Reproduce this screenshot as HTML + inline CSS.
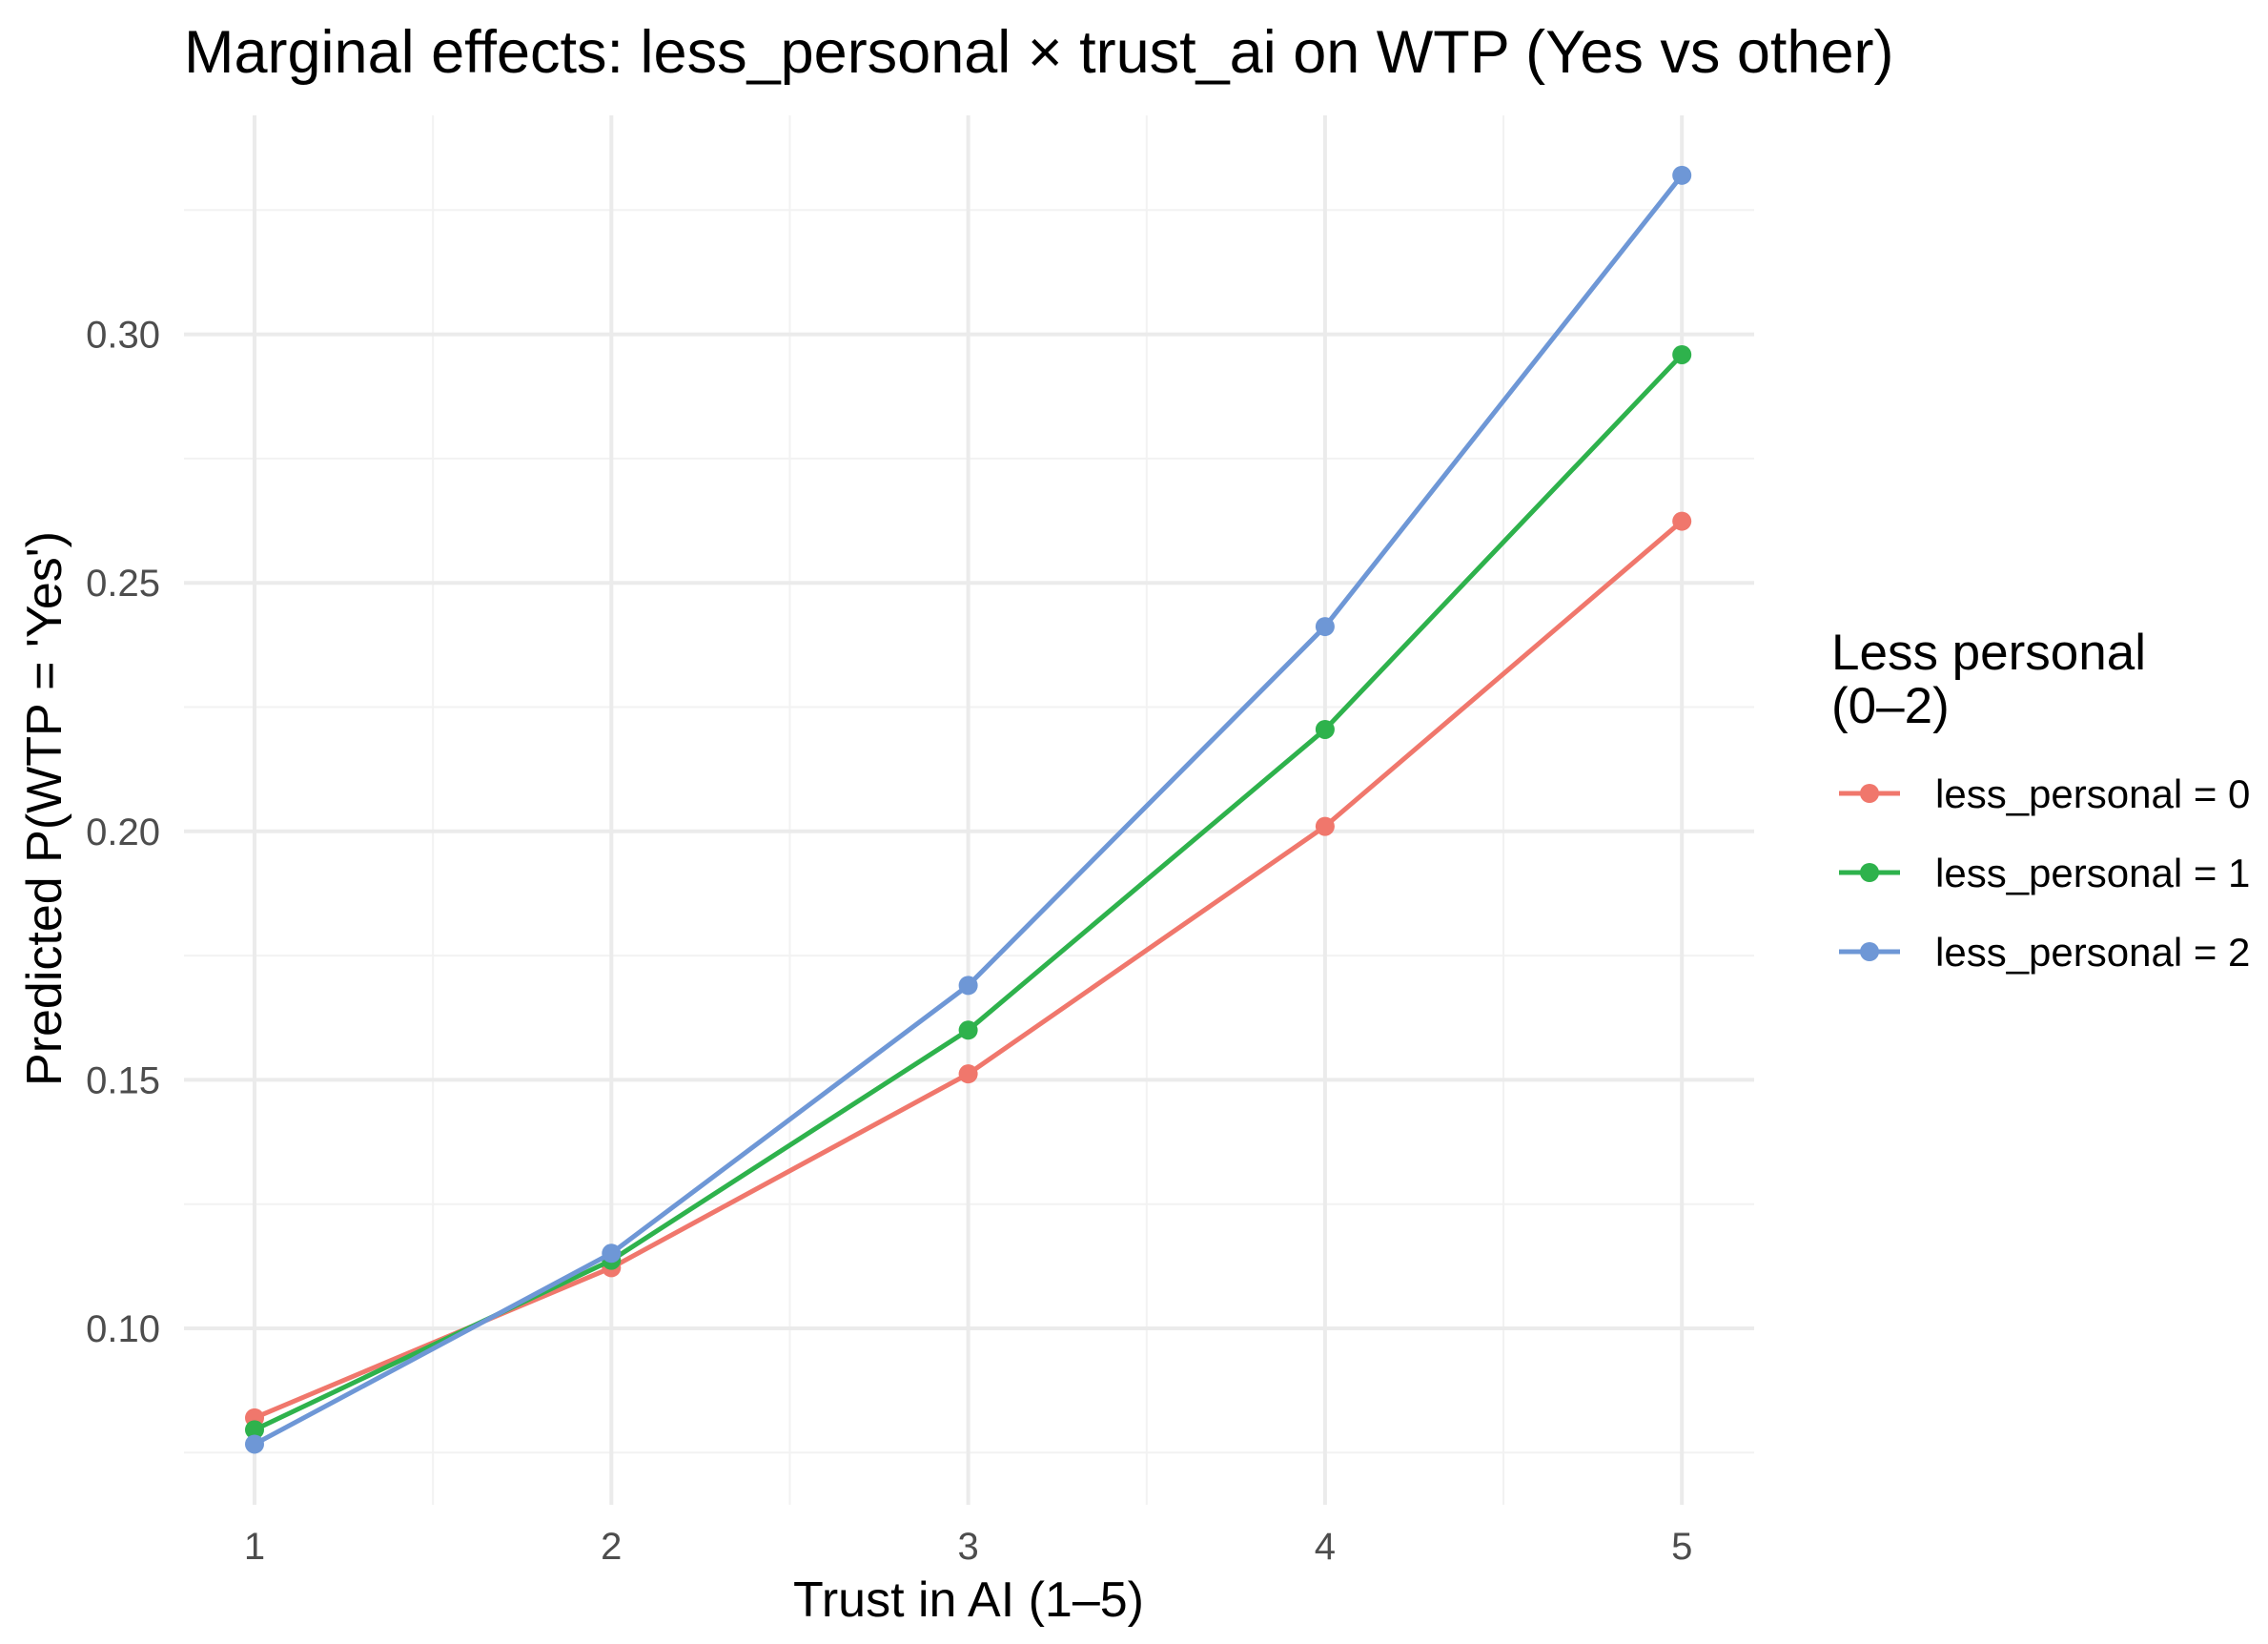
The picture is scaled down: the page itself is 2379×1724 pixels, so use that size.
<!DOCTYPE html>
<html><head><meta charset="utf-8"><style>
html,body{margin:0;padding:0;background:#fff;}
svg{display:block;font-family:"Liberation Sans",sans-serif;}
</style></head><body>
<svg id="chart" width="2379" height="1724" viewBox="0 0 2379 1724">
<text x="193" y="76" font-size="63" fill="#000">Marginal effects: less_personal × trust_ai on WTP (Yes vs other)</text>
<g id="grid"></g>
<g id="series"></g>
<g id="axes"></g>
<text x="1016" y="1695" font-size="52" text-anchor="middle" fill="#000">Trust in AI (1–5)</text>
<text transform="translate(64,848) rotate(-90)" font-size="52" text-anchor="middle" fill="#000">Predicted P(WTP = 'Yes')</text>
<g>
<text x="1921" y="702" font-size="53" fill="#000">Less personal</text>
<text x="1921" y="758" font-size="53" fill="#000">(0–2)</text>
<g id="legend-items"></g>
</g>
</svg>
<script>
const categories = [1, 2, 3, 4, 5];
const seriesNames = ["less_personal = 0", "less_personal = 1", "less_personal = 2"];
const lp0 = [0.082, 0.1122, 0.1512, 0.2010, 0.2624];
const lp1 = [0.0796, 0.1137, 0.1600, 0.2205, 0.2959];
const lp2 = [0.0767, 0.1151, 0.1690, 0.2412, 0.3320];
const yTicks = [0.10, 0.15, 0.20, 0.25, 0.30];
const yTickLabels = ["0.10", "0.15", "0.20", "0.25", "0.30"];
const yMinor = [0.075, 0.125, 0.175, 0.225, 0.275, 0.325];
const xMinor = [1.5, 2.5, 3.5, 4.5];

const colors = ["#F0776C", "#2EB24C", "#6E97D6"];
const NS = "http://www.w3.org/2000/svg";
const PL = 193, PR = 1840, PT = 121, PB = 1578;
function xS(v){ return 267 + (v - 1) * 374.3; }
function yS(v){ return 1393 - (v - 0.10) / 0.05 * 260.6; }
function mk(tag, attrs, parent){ const e = document.createElementNS(NS, tag); for (const k in attrs) e.setAttribute(k, attrs[k]); parent.appendChild(e); return e; }

const grid = document.getElementById('grid');
yMinor.forEach(v => {
  const l = mk('line', {x1: PL, x2: PR, y1: yS(v), y2: yS(v), stroke: '#f2f2f2', 'stroke-width': 2}, grid);
  
  
});
xMinor.forEach(v => {
  const l = mk('line', {x1: xS(v), x2: xS(v), y1: PT, y2: PB, stroke: '#f2f2f2', 'stroke-width': 2}, grid);
  
  
});
yTicks.forEach(v => {
  const l = mk('line', {x1: PL, x2: PR, y1: yS(v), y2: yS(v), stroke: '#ebebeb', 'stroke-width': 4}, grid);
  
  
});
categories.forEach(v => {
  const l = mk('line', {x1: xS(v), x2: xS(v), y1: PT, y2: PB, stroke: '#ebebeb', 'stroke-width': 4}, grid);
  
  
});

const axes = document.getElementById('axes');
yTicks.forEach((v, i) => {
  const t = mk('text', {x: 168, y: yS(v) + 14, 'font-size': 40, 'text-anchor': 'end', fill: '#4d4d4d'}, axes);
  t.textContent = yTickLabels[i];
  
  
});
categories.forEach(v => {
  const t = mk('text', {x: xS(v), y: 1635, 'font-size': 40, 'text-anchor': 'middle', fill: '#4d4d4d'}, axes);
  t.textContent = String(v);
  
  
});

const series = document.getElementById('series');
[lp0, lp1, lp2].forEach((vals, si) => {
  const g = mk('g', {}, series);
  
  
  const pts = vals.map((v, i) => xS(categories[i]) + ',' + yS(v)).join(' ');
  const pl = mk('polyline', {points: pts, fill: 'none', stroke: colors[si], 'stroke-width': 5, 'stroke-linejoin': 'round'}, g);
  
  
  vals.forEach((v, i) => {
    const c = mk('circle', {cx: xS(categories[i]), cy: yS(v), r: 10, fill: colors[si]}, g);
    
    
  });
});

const leg = document.getElementById('legend-items');
seriesNames.forEach((n, i) => {
  const y = 832 + i * 83;
  const g = mk('g', {}, leg);
  
  
  mk('line', {x1: 1929, x2: 1993, y1: y, y2: y, stroke: colors[i], 'stroke-width': 5}, g);
  mk('circle', {cx: 1961, cy: y, r: 10, fill: colors[i]}, g);
  const t = mk('text', {x: 2030, y: y + 15, 'font-size': 42, fill: '#000'}, g);
  t.textContent = n;
});
</script>
</body></html>
